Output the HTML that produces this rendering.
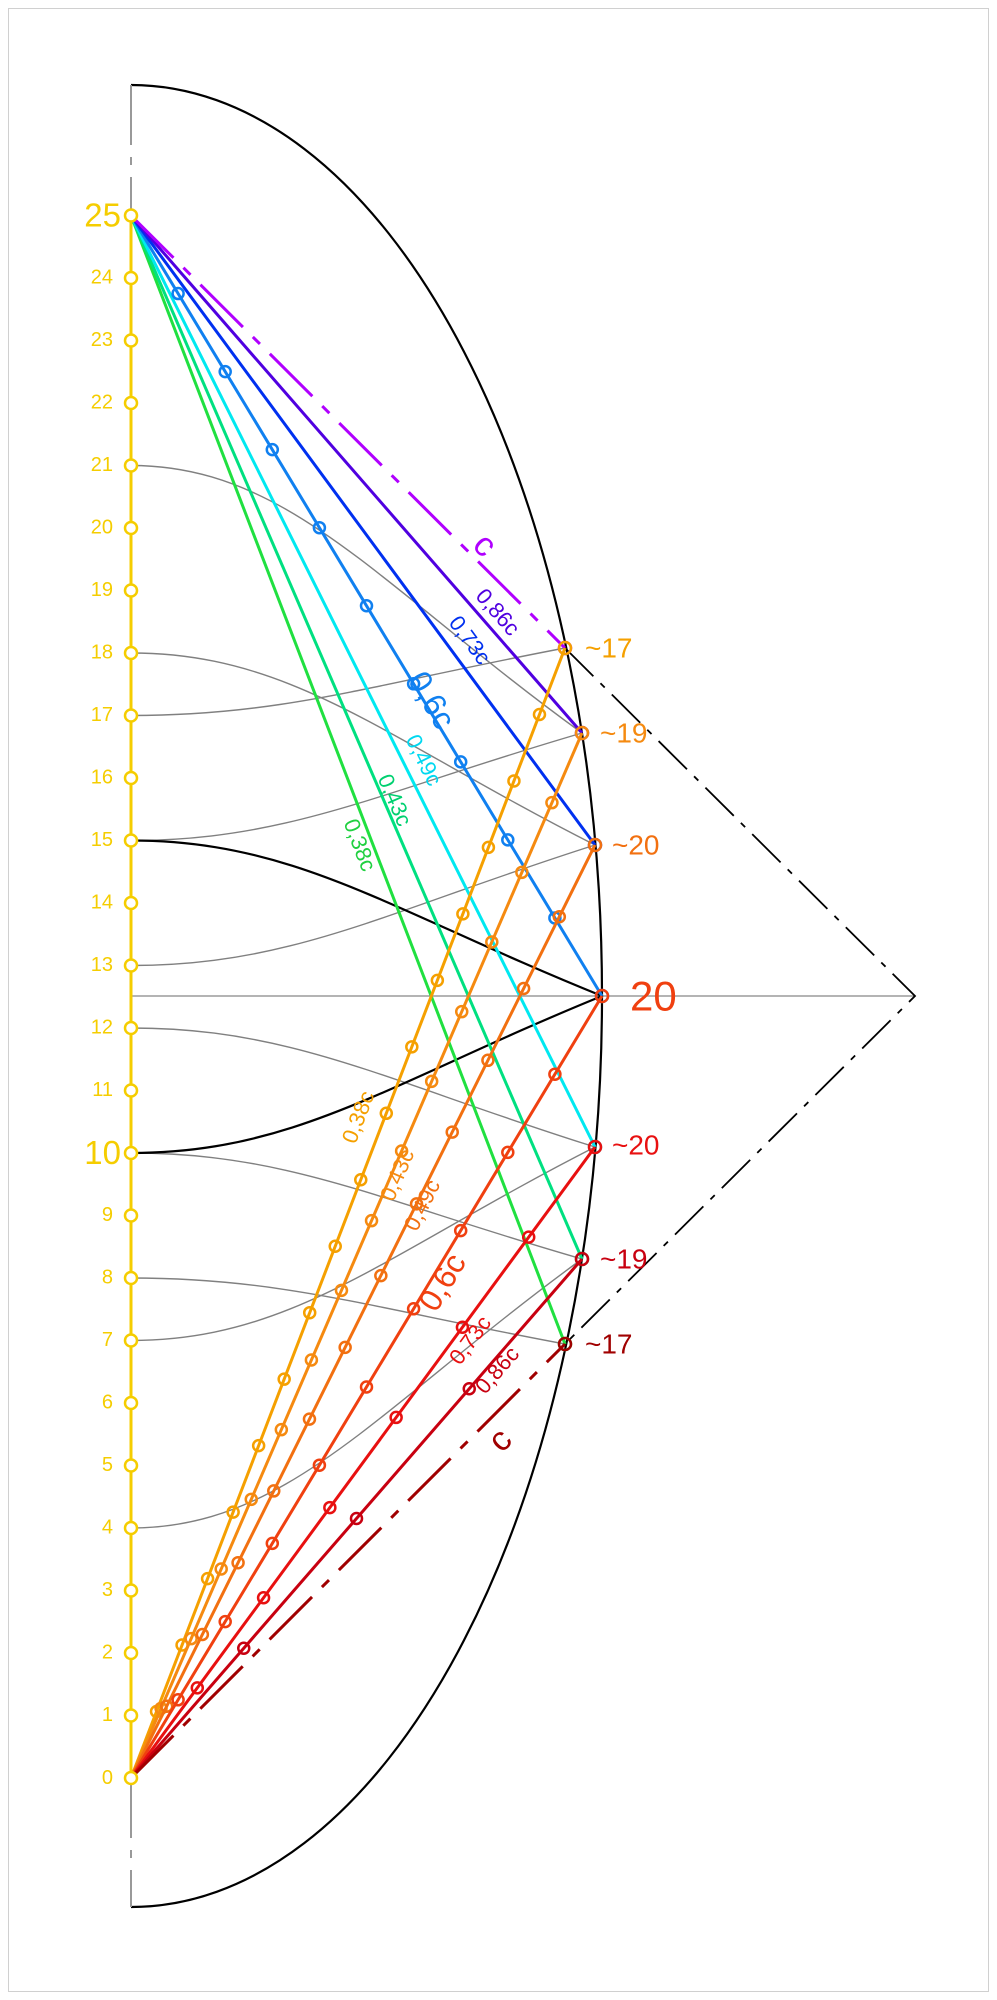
<!DOCTYPE html>
<html><head><meta charset="utf-8"><style>
html,body{margin:0;padding:0;background:#fff}
svg{display:block}
text{font-family:"Liberation Sans",sans-serif}
</style></head><body>
<svg id="s" width="997" height="2000" viewBox="0 0 997 2000" xmlns="http://www.w3.org/2000/svg">
<rect x="8.5" y="8.5" width="980" height="1983" fill="#fff" stroke="#d0d0d0"/>
<g id="g"></g>
<g font-size="20" fill="#f5cd00" text-anchor="end" dominant-baseline="central">
<text x="121" y="215" font-size="33">25</text>
<text x="113" y="277.5">24</text><text x="113" y="340">23</text><text x="113" y="402.5">22</text>
<text x="113" y="465">21</text><text x="113" y="527.5">20</text><text x="113" y="590">19</text>
<text x="113" y="652.5">18</text><text x="113" y="715">17</text><text x="113" y="777.5">16</text>
<text x="113" y="840">15</text><text x="113" y="902.5">14</text><text x="113" y="965">13</text>
<text x="113" y="1027.5">12</text><text x="113" y="1090">11</text>
<text x="121" y="1152.5" font-size="33">10</text>
<text x="113" y="1215">9</text><text x="113" y="1277.5">8</text><text x="113" y="1340">7</text>
<text x="113" y="1402.5">6</text><text x="113" y="1465">5</text><text x="113" y="1527.5">4</text>
<text x="113" y="1590">3</text><text x="113" y="1652.5">2</text><text x="113" y="1715">1</text>
<text x="113" y="1778">0</text>
</g>
<g font-size="28" dominant-baseline="central">
<text x="585" y="648" fill="#f5a000">~17</text>
<text x="600" y="733" fill="#f58a10">~19</text>
<text x="612" y="845" fill="#f27010">~20</text>
<text x="630" y="996" fill="#f04010" font-size="42">20</text>
<text x="612" y="1145" fill="#e81010">~20</text>
<text x="600" y="1259" fill="#c80010">~19</text>
<text x="585" y="1344" fill="#a00000">~17</text>
</g>
<g font-size="22" text-anchor="middle" dominant-baseline="central">
<text x="485" y="545" font-size="34" fill="#b000ff" transform="rotate(45 485 545)">c</text>
<text x="498" y="612" fill="#5000e0" transform="rotate(49 498 612)">0,86c</text>
<text x="470" y="640" fill="#0030f0" transform="rotate(53.6 470 640)">0,73c</text>
<text x="432" y="700" font-size="32" fill="#1080f0" transform="rotate(59 432 700)">0,6c</text>
<text x="424" y="760" fill="#00d8f0" transform="rotate(63.5 424 760)">0,49c</text>
<text x="395" y="800" fill="#00d070" transform="rotate(66.6 395 800)">0,43c</text>
<text x="360" y="845" fill="#20d040" transform="rotate(69 360 845)">0,38c</text>
<text x="358" y="1117" fill="#f5a000" transform="rotate(-69 358 1117)">0,38c</text>
<text x="397" y="1175" fill="#f58a10" transform="rotate(-66.6 397 1175)">0,43c</text>
<text x="422" y="1205" fill="#f27010" transform="rotate(-63.5 422 1205)">0,49c</text>
<text x="442" y="1282" font-size="32" fill="#f04010" transform="rotate(-59 442 1282)">0,6c</text>
<text x="470" y="1340" fill="#e81010" transform="rotate(-53.6 470 1340)">0,73c</text>
<text x="497" y="1370" fill="#c80010" transform="rotate(-49 497 1370)">0,86c</text>
<text x="500" y="1440" font-size="34" fill="#a00000" transform="rotate(-45 500 1440)">c</text>
</g>
</svg>
<script>
(function(){
var g=document.getElementById('g'),NS='http://www.w3.org/2000/svg';
function el(t,a){var e=document.createElementNS(NS,t);for(var k in a)e.setAttribute(k,a[k]);g.appendChild(e);return e;}
function Y(v){return 1778-62.5*v;}
var AX=131;
el('line',{x1:AX,y1:996,x2:915,y2:996,stroke:'#888','stroke-width':1.3});
el('path',{d:'M131 85 A471 911 0 0 1 131 1907',fill:'none',stroke:'#000','stroke-width':2.2});
el('line',{x1:AX,y1:85,x2:AX,y2:215,stroke:'#999','stroke-width':2,'stroke-dasharray':'60 12 8 12'});
el('line',{x1:AX,y1:1778,x2:AX,y2:1907,stroke:'#999','stroke-width':2,'stroke-dasharray':'60 12 8 12'});
var E={u17:[565,648],u19:[582,733],u20:[595,845],m:[602,996],l20:[595,1147],l19:[582,1259],l17:[565,1344]};
el('path',{d:'M565 648 L915 996 L565 1344',fill:'none',stroke:'#000','stroke-width':1.8,'stroke-dasharray':'40 10 6 10'});
function curve(v,e,col,w){var x0=AX,y0=Y(v),dx=e[0]-x0;
 el('path',{d:'M'+x0+' '+y0+' C'+(x0+0.35*dx)+' '+y0+' '+(x0+0.55*dx)+' '+(y0+(e[1]-y0)*0.45)+' '+e[0]+' '+e[1],fill:'none',stroke:col,'stroke-width':w});}
[[21,'u19'],[18,'u20'],[17,'u17'],[15,'u19'],[13,'u20'],[12,'l20'],[10,'l19'],[8,'l17'],[7,'l20'],[4,'l19']].forEach(function(c){curve(c[0],E[c[1]],'#808080',1.4);});
curve(15,E.m,'#000',2.2);curve(10,E.m,'#000',2.2);
el('line',{x1:AX,y1:Y(0),x2:AX,y2:Y(25),stroke:'#f5cd00','stroke-width':3});
function line(p,e,col,n,dash,w){var a={x1:p[0],y1:p[1],x2:e[0],y2:e[1],stroke:col,'stroke-width':w||3};if(dash)a['stroke-dasharray']=dash;el('line',a);
 for(var k=1;k<n;k++){el('circle',{cx:p[0]+(e[0]-p[0])*k/n,cy:p[1]+(e[1]-p[1])*k/n,r:5.5,fill:'none',stroke:col,'stroke-width':2.5});}
 el('circle',{cx:e[0],cy:e[1],r:6,fill:'none',stroke:col,'stroke-width':2.5});}
var T=[AX,Y(25)],B=[AX,Y(0)];
line(T,E.l17,'#20e040',0);line(T,E.l19,'#00e080',0);line(T,E.l20,'#00e8f0',0);
line(T,E.m,'#1080f0',10);line(T,E.u20,'#0030f0',0);line(T,E.u19,'#5000e0',0);
line(T,E.u17,'#b000ff',0,'60 14 10 14');
line(B,E.u17,'#f5a000',17);line(B,E.u19,'#f58a10',15);line(B,E.u20,'#f27010',13);
line(B,E.m,'#f04010',10);line(B,E.l20,'#e81010',7);line(B,E.l19,'#c80010',4);
line(B,E.l17,'#a00000',0,'60 14 10 14');
for(var v=0;v<=25;v++)el('circle',{cx:AX,cy:Y(v),r:6,fill:'#fff',stroke:'#f5cd00','stroke-width':2.5});
})();
</script>
</body></html>
